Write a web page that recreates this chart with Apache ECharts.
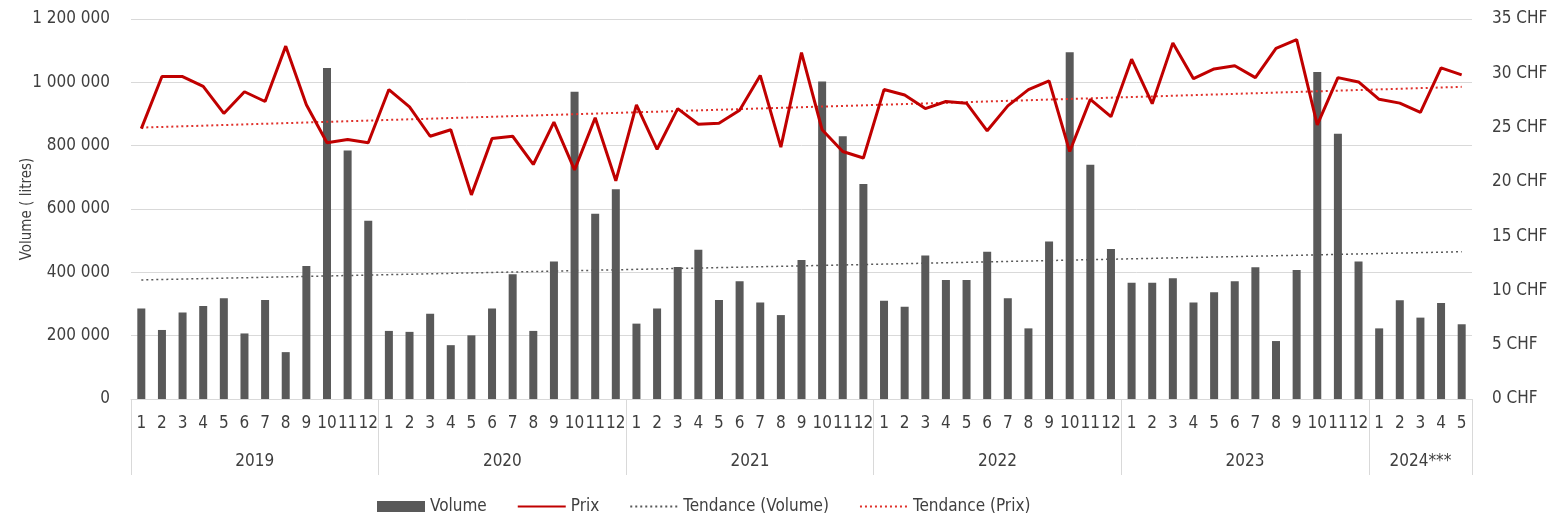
<!DOCTYPE html>
<html>
<head>
<meta charset="utf-8">
<script src="https://cdn.jsdelivr.net/npm/echarts@6/dist/echarts.min.js"></script>
<style>
  html, body { margin: 0; padding: 0; background: #fff; }
  #chart { width: 1549px; height: 518px; }
</style>
</head>
<body>
<div id="chart"></div>
<script>
// years and number of months shown for each
const years = ['2019', '2020', '2021', '2022', '2023', '2024***'];
const monthsPerYear = [12, 12, 12, 12, 12, 5];

// monthly volume in litres
const volume = [
  286000, 218000, 273000, 294000, 318000, 207000, 313000, 148000, 420000, 1045000, 785000, 563000,
  215000, 212000, 269000, 170000, 201000, 286000, 394000, 215000, 434000, 970000, 585000, 662000,
  238000, 286000, 417000, 471000, 313000, 372000, 305000, 265000, 439000, 1003000, 830000, 679000,
  310000, 291000, 453000, 376000, 376000, 465000, 318000, 223000, 497000, 1095000, 740000, 474000,
  367000, 367000, 381000, 305000, 337000, 372000, 416000, 183000, 407000, 1033000, 838000, 434000,
  223000, 312000, 257000, 303000, 236000
];

// monthly price in CHF
const price = [
  24.9, 29.7, 29.7, 28.8, 26.3, 28.3, 27.4, 32.5, 27.1, 23.6, 23.9, 23.6,
  28.5, 26.9, 24.2, 24.8, 18.8, 24.0, 24.2, 21.6, 25.5, 21.1, 25.9, 20.1,
  27.1, 23.0, 26.75, 25.3, 25.4, 26.6, 29.8, 23.2, 31.9, 24.8, 22.8, 22.2,
  28.5, 28.0, 26.75, 27.4, 27.25, 24.7, 27.0, 28.5, 29.3, 22.8, 27.6, 26.0,
  31.3, 27.2, 32.8, 29.5, 30.4, 30.7, 29.6, 32.3, 33.1, 25.25, 29.6, 29.2,
  27.6, 27.25, 26.4, 30.5, 29.85
];

// trend lines: value at first and last month
const trendVolume = [376000, 465000];
const trendPrice = [25.0, 28.75];

const months = [];
const yearBounds = [0];
const yearCenters = [];
monthsPerYear.forEach((n, i) => {
  for (let m = 1; m <= n; m++) months.push(String(m));
  const start = yearBounds[yearBounds.length - 1];
  yearCenters.push(start + n / 2);
  yearBounds.push(start + n);
});
const last = months.length - 1;

const FONT = "'Liberation Sans Narrow', 'DejaVu Sans Condensed', sans-serif";
const TXT = '#3f3f3f';
const GRID = '#d9d9d9';

const fmtSpace = (v) => String(v).replace(/\B(?=(\d{3})+(?!\d))/g, ' ');

const chart = echarts.init(document.getElementById('chart'));

// hide the symbol in line legend icons, keep the line
const noSym = { opacity: 0 };

chart.setOption({
  animation: false,
  textStyle: { fontFamily: FONT, color: TXT },
  grid: { left: 131, right: 77, top: 19, bottom: 119, outerBoundsMode: 'none', containLabel: false },
  legend: {
    top: 493,
    left: 372,
    itemWidth: 48,
    itemHeight: 11,
    itemGap: 30,
    textStyle: { fontFamily: FONT, fontSize: 17, color: TXT },
    data: [
      { name: 'Volume', icon: 'rect' },
      { name: 'Prix', itemStyle: noSym },
      { name: 'Tendance (Volume)', itemStyle: noSym },
      { name: 'Tendance (Prix)', itemStyle: noSym }
    ]
  },
  xAxis: [
    {
      type: 'category',
      data: months,
      position: 'bottom',
      axisLine: { lineStyle: { color: GRID } },
      axisTick: { show: false },
      axisLabel: { interval: 0, margin: 16, fontSize: 17, color: TXT, fontFamily: FONT }
    },
    {
      type: 'value',
      min: 0,
      max: months.length,
      position: 'bottom',
      axisLine: { show: false },
      splitLine: { show: false },
      axisTick: {
        show: true,
        customValues: yearBounds,
        length: 76,
        lineStyle: { color: GRID }
      },
      axisLabel: {
        customValues: yearCenters,
        margin: 54,
        fontSize: 17,
        color: TXT,
        fontFamily: FONT,
        formatter: (v) => years[yearCenters.indexOf(v)]
      }
    }
  ],
  yAxis: [
    {
      type: 'value',
      min: 0,
      max: 1200000,
      interval: 200000,
      name: 'Volume ( litres)',
      nameLocation: 'middle',
      nameGap: 96,
      nameMoveOverlap: false,
      nameTextStyle: { fontFamily: FONT, fontSize: 15, color: TXT },
      axisLine: { show: false },
      axisTick: { show: false },
      splitLine: { lineStyle: { color: GRID, width: 1 } },
      axisLabel: { margin: 21, fontSize: 17, color: TXT, fontFamily: FONT, formatter: fmtSpace }
    },
    {
      type: 'value',
      min: 0,
      max: 35,
      interval: 5,
      position: 'right',
      axisLine: { show: false },
      axisTick: { show: false },
      splitLine: { show: false },
      axisLabel: { margin: 20, fontSize: 17, color: TXT, fontFamily: FONT, formatter: (v) => v + ' CHF' }
    }
  ],
  series: [
    {
      name: 'Volume',
      type: 'bar',
      data: volume,
      barWidth: 8,
      itemStyle: { color: '#595959' },
      z: 1
    },
    {
      name: 'Tendance (Volume)',
      type: 'line',
      data: [[0, trendVolume[0]], [last, trendVolume[1]]],
      symbol: 'none',
      lineStyle: { color: '#595959', width: 1.5, type: [2, 3] },
      itemStyle: { color: '#595959' },
      z: 2
    },
    {
      name: 'Tendance (Prix)',
      type: 'line',
      yAxisIndex: 1,
      data: [[0, trendPrice[0]], [last, trendPrice[1]]],
      symbol: 'none',
      lineStyle: { color: '#e0302a', width: 2, type: [2, 3] },
      itemStyle: { color: '#e0302a' },
      z: 3
    },
    {
      name: 'Prix',
      type: 'line',
      yAxisIndex: 1,
      data: price,
      symbol: 'none',
      lineStyle: { color: '#c00000', width: 3 },
      itemStyle: { color: '#c00000' },
      z: 4
    }
  ]
});
</script>
</body>
</html>
